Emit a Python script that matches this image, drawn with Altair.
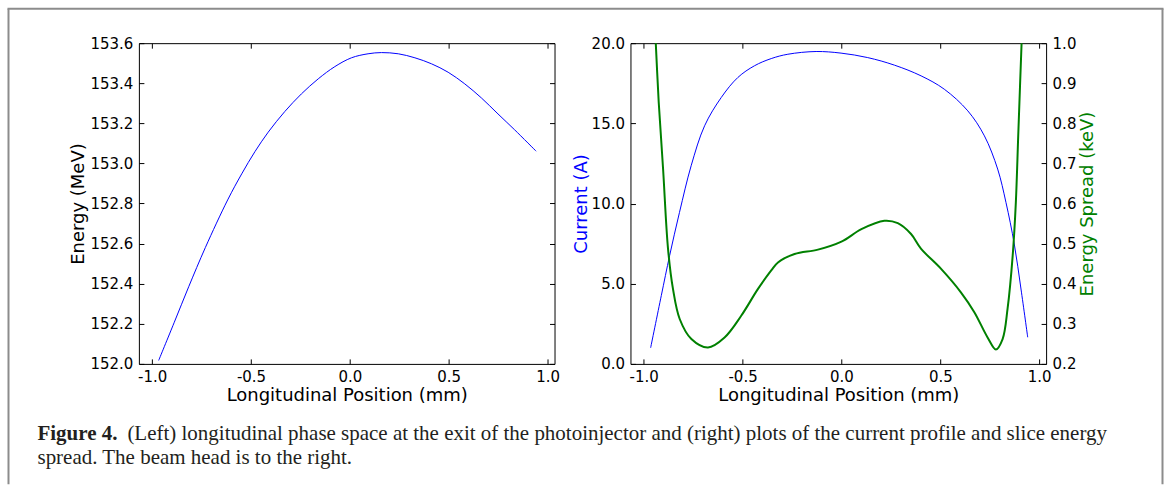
import altair as alt
import pandas as pd

# ---------------- data ----------------
pos_energy = [-0.967, -0.889, -0.815, -0.731, -0.618, -0.547, -0.480, -0.413, -0.329,
              -0.245, -0.160, -0.076, 0.008, 0.092, 0.160, 0.245, 0.329, 0.413, 0.497,
              0.581, 0.665, 0.749, 0.833, 0.942]
energy_mev = [152.017, 152.205, 152.385, 152.580, 152.818, 152.948, 153.059, 153.156,
              153.259, 153.347, 153.422, 153.483, 153.527, 153.547, 153.553, 153.547,
              153.527, 153.497, 153.455, 153.397, 153.327, 153.247, 153.168, 153.061]

pos_current = [-0.965, -0.911, -0.869, -0.819, -0.760, -0.692, -0.608, -0.524, -0.440,
               -0.355, -0.271, -0.128, -0.002, 0.133, 0.268, 0.403, 0.520, 0.639,
               0.723, 0.790, 0.832, 0.874, 0.908, 0.942]
current_a = [1.00, 4.26, 6.75, 9.45, 12.36, 14.85, 16.61, 17.86, 18.59,
             19.04, 19.31, 19.48, 19.38, 19.10, 18.63, 17.96, 17.13, 15.78,
             14.22, 12.15, 10.07, 7.48, 4.67, 1.66]

pos_spread = [-0.955, -0.939, -0.924, -0.902, -0.877, -0.852, -0.818, -0.759, -0.675,
              -0.591, -0.507, -0.422, -0.355, -0.321, -0.237, -0.119, 0.000, 0.101,
              0.217, 0.285, 0.352, 0.403, 0.504, 0.605, 0.672, 0.739, 0.781, 0.815,
              0.840, 0.866, 0.882, 0.894, 0.911, 0.925]
spread_kev = [1.16, 1.000, 0.852, 0.686, 0.487, 0.387, 0.312, 0.262, 0.241,
              0.266, 0.320, 0.387, 0.433, 0.453, 0.474, 0.485, 0.505, 0.536,
              0.557, 0.551, 0.524, 0.487, 0.437, 0.378, 0.329, 0.266, 0.236, 0.262,
              0.337, 0.470, 0.603, 0.769, 1.000, 1.19]

x_ticks = [-1.0, -0.5, 0.0, 0.5, 1.0]
energy_ticks = [152.0, 152.2, 152.4, 152.6, 152.8, 153.0, 153.2, 153.4, 153.6]
current_ticks = [0.0, 5.0, 10.0, 15.0, 20.0]
spread_ticks = [0.2, 0.3, 0.4, 0.5, 0.6, 0.7, 0.8, 0.9, 1.0]

x_title = "Longitudinal Position (mm)"
energy_title = "Energy (MeV)"
current_title = "Current (A)"
spread_title = "Energy Spread (keV)"
caption_bold = "Figure 4."
caption_line1 = ("(Left) longitudinal phase space at the exit of the photoinjector and (right) "
                 "plots of the current profile and slice energy")
caption_line2 = "spread. The beam head is to the right."

# ---------------- styling ----------------
W, H = 416, 321
XDOM = [-1.067, 1.035]
FONT = "DejaVu Sans"
LBL = 15
TTL = 18
BLUE = "#0000ff"
GREEN = "#008000"
FRAME = "#8c8c8c"
label_expr = "replace(format(datum.value, '.1f'), '\u2212', '-')"

df_e = pd.DataFrame({"pos": pos_energy, "energy": energy_mev})
df_c = pd.DataFrame({"pos": pos_current, "current": current_a})
df_s = pd.DataFrame({"pos": pos_spread, "spread": spread_kev})
one = alt.Data(values=[{"k": 0}])

xscale = alt.Scale(domain=XDOM, nice=False, zero=False)


def x_axis():
    return alt.Axis(values=x_ticks, labelExpr=label_expr, title=x_title,
                    grid=True, gridColor="black", gridOpacity=1, gridWidth=1,
                    gridDash=[5, H - 10, 5, 3000], ticks=False, tickSize=0,
                    domain=False, labelPadding=6, titlePadding=2,
                    labelFlush=False, labelOverlap=False)


def y_axis(values, title, orient, dash, color="black", pad=1, **kw):
    return alt.Axis(values=values, format=".1f", title=title, orient=orient,
                    grid=True, gridColor="black", gridOpacity=1, gridWidth=1,
                    gridDash=dash, ticks=False, tickSize=0, domain=False,
                    labelPadding=6, titlePadding=pad, titleColor=color,
                    labelFlush=False, labelOverlap=False, **kw)


# ---------------- left panel ----------------
left_line = alt.Chart(df_e).mark_line(color=BLUE, strokeWidth=1,
                                      interpolate="catmull-rom").encode(
    x=alt.X("pos:Q", scale=xscale, axis=x_axis()),
    y=alt.Y("energy:Q", scale=alt.Scale(domain=[152.0, 153.6], nice=False, zero=False),
            axis=y_axis(energy_ticks, energy_title, "left", [5, W - 10, 5, 3000], pad=2)),
)

frame_l = alt.Chart(one).mark_rule(color=FRAME, strokeWidth=2).encode(
    x=alt.value(-130.5), x2=alt.value(-130.5), y=alt.value(-34.5), y2=alt.value(441.5))
frame_t = alt.Chart(one).mark_rule(color=FRAME, strokeWidth=2).encode(
    x=alt.value(-131.5), x2=alt.value(1025.5), y=alt.value(-34.5), y2=alt.value(-34.5))
frame_r = alt.Chart(one).mark_rule(color=FRAME, strokeWidth=2).encode(
    x=alt.value(1024.5), x2=alt.value(1024.5), y=alt.value(-34.5), y2=alt.value(441.5))

cap_style = dict(font="Liberation Serif", fontSize=21, align="left",
                 baseline="alphabetic", color="#231f20")
cap0 = alt.Chart(one).mark_text(text=caption_bold, fontWeight="bold", **cap_style).encode(
    x=alt.value(-101.5), y=alt.value(397.5))
cap1 = alt.Chart(one).mark_text(text=caption_line1, **cap_style).encode(
    x=alt.value(-11.5), y=alt.value(397.5))
cap2 = alt.Chart(one).mark_text(text=caption_line2, **cap_style).encode(
    x=alt.value(-101.5), y=alt.value(421.5))

left = alt.layer(left_line, frame_l, frame_t, frame_r, cap0, cap1, cap2).properties(
    width=W, height=H)

# ---------------- right panel ----------------
cur_line = alt.Chart(df_c).mark_line(color=BLUE, strokeWidth=1, clip=True,
                                     interpolate="catmull-rom").encode(
    x=alt.X("pos:Q", scale=xscale, axis=x_axis()),
    y=alt.Y("current:Q", scale=alt.Scale(domain=[0, 20], nice=False, zero=False),
            axis=y_axis(current_ticks, current_title, "left", [5, 3000], color=BLUE)),
)
spr_line = alt.Chart(df_s).mark_line(color=GREEN, strokeWidth=2, clip=True,
                                     interpolate="catmull-rom").encode(
    x=alt.X("pos:Q", scale=xscale, axis=x_axis()),
    y=alt.Y("spread:Q", scale=alt.Scale(domain=[0.2, 1.0], nice=False, zero=False),
            axis=y_axis(spread_ticks, spread_title, "right", [5, 3000], color=GREEN,
                        pad=3, titleAngle=270, titleBaseline="top")),
)
right = alt.layer(cur_line, spr_line).resolve_scale(y="independent").properties(
    width=W, height=H)

chart = alt.hconcat(left, right, spacing=76, bounds="flush").properties(
    padding={"left": 6, "top": 7, "right": 0, "bottom": 0}
).configure_view(stroke="black", strokeWidth=1).configure_axis(
    labelFont=FONT, labelFontSize=LBL, labelColor="black",
    titleFont=FONT, titleFontSize=TTL, titleFontWeight="normal", titleColor="black"
)

chart.save("out.html", embed_options={"renderer": "svg", "actions": False})
